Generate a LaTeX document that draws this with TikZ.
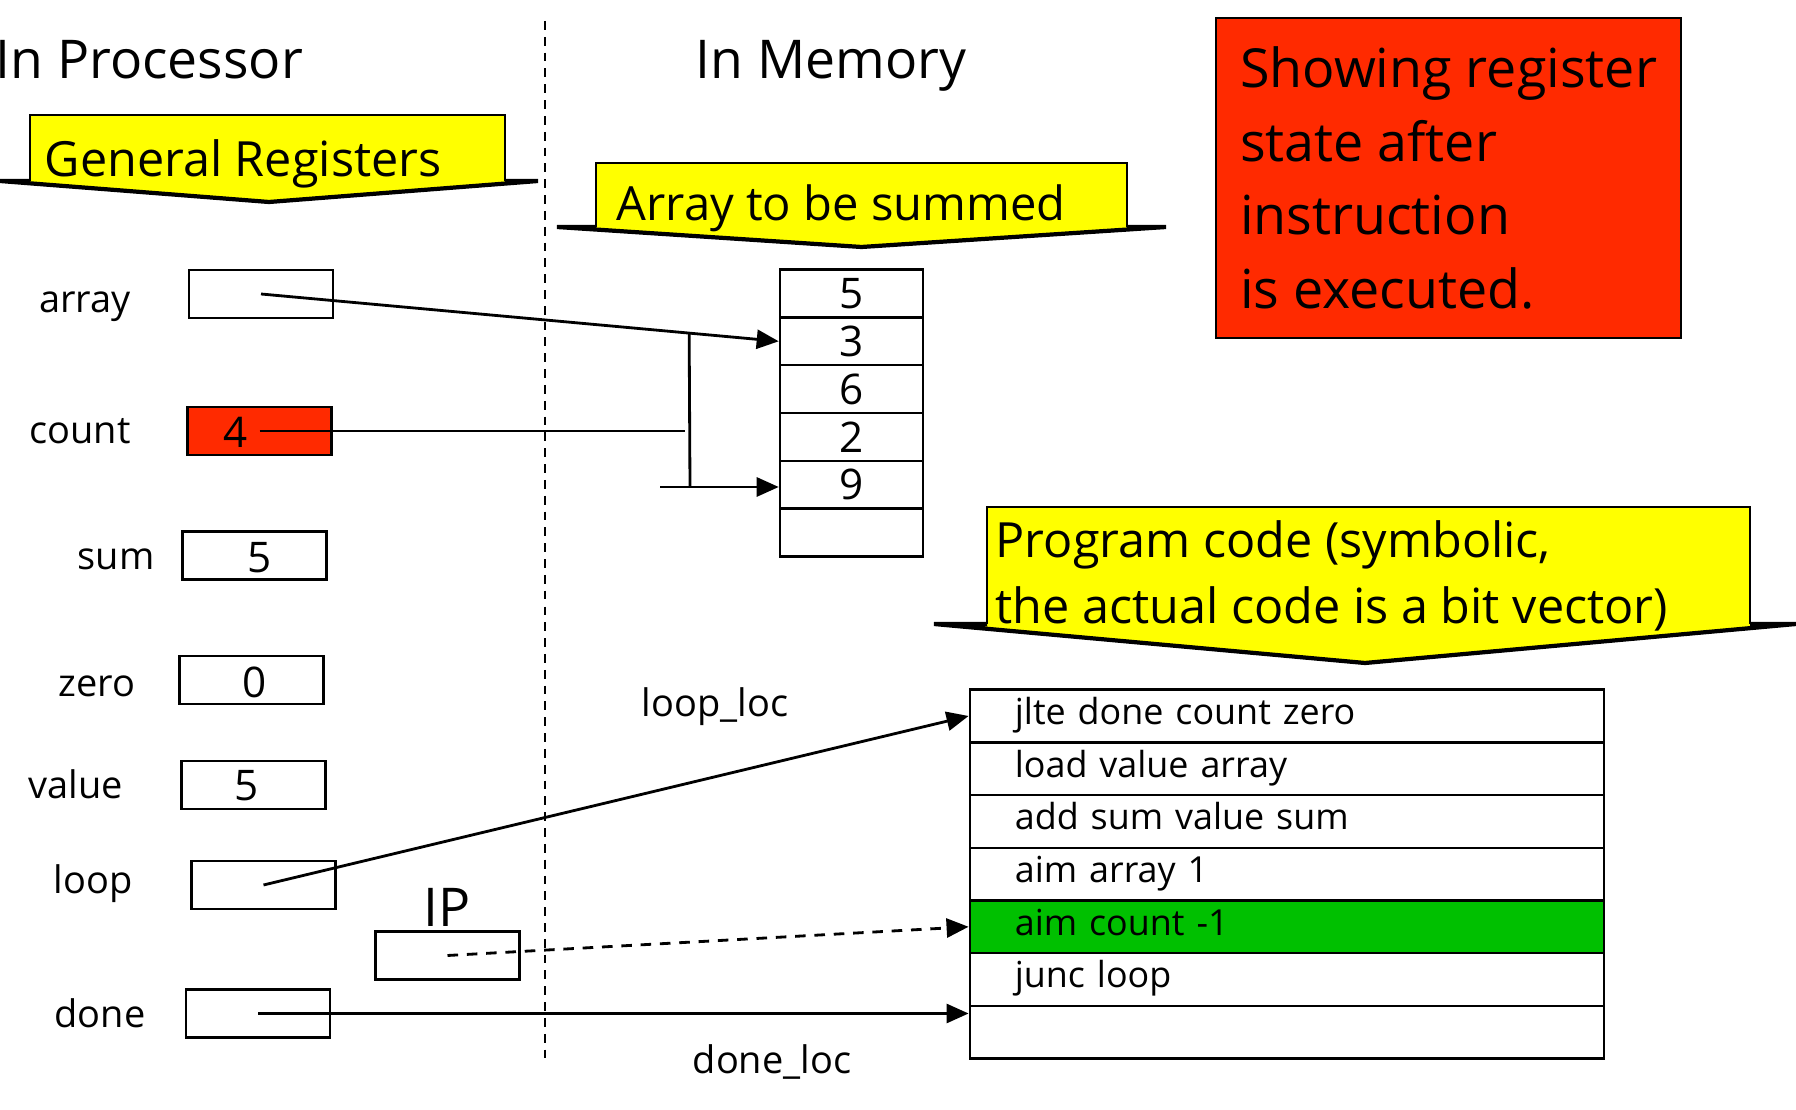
\documentclass[tikz,border=0pt]{standalone}
\usepackage{fontspec}
\setmainfont{Open Sans}
\usetikzlibrary{arrows.meta,calc}
\definecolor{calloutyellow}{RGB}{255,255,0}
\definecolor{statered}{RGB}{255,42,0}
\definecolor{ipgreen}{RGB}{0,192,0}
\def\arrowcallout(#1,#2,#3,#4)(#5,#6,#7){%
  \fill[calloutyellow] (#1,#3) -- (#2,#3) -- (#2,#4) -- (#6,#4) -- ({(#5+#6)/2},#7) -- (#5,#4) -- (#1,#4) -- cycle;
  \draw[line width=0.6pt] (#1,#4) -- (#1,#3) -- (#2,#3) -- (#2,#4);
  \draw[line width=1.2pt] (#1,#4) -- (#5,#4) -- ({(#5+#6)/2},#7) -- (#6,#4) -- (#2,#4);}
\tikzset{
  heading/.style={inner sep=0pt, font=\fontsize{15.2}{18}\selectfont},
  callouttext/.style={inner sep=0pt, align=left, font=\fontsize{13.8}{18.8}\selectfont},
  reglabel/.style={inner sep=0pt, font=\fontsize{10.8}{13}\selectfont},
  regbox/.style={draw, line width=0.7pt, minimum width=1.44cm, minimum height=0.48cm, inner sep=0pt},
  regval/.style={inner sep=0pt, font=\fontsize{12}{14}\selectfont},
  memcell/.style={draw, line width=0.7pt, minimum width=1.43cm, minimum height=0.478cm, inner sep=0pt, font=\fontsize{12}{14}\selectfont},
  codecell/.style={draw, line width=0.7pt, text width=5.44cm, inner xsep=0.45cm, inner ysep=0pt, minimum height=0.527cm, align=left, font=\fontsize{10.2}{12}\selectfont, execute at begin node=\strut},
  notebox/.style={draw, fill=statered, line width=0.7pt, minimum width=4.65cm, minimum height=3.2cm, align=left, font=\fontsize{15.3}{21}\selectfont},
  ptr/.style={line width=0.8pt, -{Triangle[length=2.2mm,width=1.9mm]}},
}

\begin{document}
\begin{tikzpicture}[x=0.01cm, y=-0.01cm]
	\useasboundingbox (0,0) rectangle (1796,1110);
	%%%%% HEADINGS %%%%%
	\node[heading, anchor=west] (proc) at (-5,60) {In Processor};
	\node[heading] (mem) at (831,66) {In Memory};
	\draw[line width=0.6pt, dash pattern=on 2.5pt off 2pt] (545,21) -- (545,1059);
	
	\node[notebox] (note) at (1448.5,178) {Showing register\\ state after\\ instruction\\ is executed.};
	
	%%%%% CALLOUTS %%%%%
	\arrowcallout(30,505,115,181)(0,538,202)
	\node[callouttext, anchor=west] (genreg) at (44,164) {General Registers};
	
	\arrowcallout(596,1127,163,227)(557,1166,247)
	\node[callouttext, anchor=west, font=\fontsize{13.4}{18}\selectfont] (arrsum) at (616,208) {Array to be summed};
	
	\arrowcallout(987,1750,507,624)(934,1796,663)
	\node[callouttext, anchor=west] (progcode) at (995,576) {Program code (symbolic,\\ the actual code is a bit vector)};
	
	%%%%% REGISTERS %%%%%
	\node[reglabel] (arraylbl) at (85,307) {array};
	\node[regbox] (array) at (261,294) {};
	
	\node[reglabel] (countlbl) at (80,431) {count};
	\node[regbox, fill=statered] (count) at (259.5,431) {};
	\node[regval] (countval) at (236,432) {4};
	
	\node[reglabel] (sumlbl) at (116,559) {sum};
	\node[regbox] (sum) at (254.5,555.5) {};
	\node[regval] (sumval) at (260,558) {5};
	
	\node[reglabel] (zerolbl) at (97,686) {zero};
	\node[regbox] (zero) at (251.5,680) {};
	\node[regval] (zeroval) at (255,682) {0};
	
	\node[reglabel] (valuelbl) at (76,784) {value};
	\node[regbox] (value) at (253.5,785) {};
	\node[regval] (valueval) at (247,786) {5};
	
	\node[reglabel] (looplbl) at (93,884) {loop};
	\node[regbox] (loop) at (263.5,885) {};
	
	\node[heading] (iplbl) at (447,907) {IP};
	\node[regbox] (ip) at (447.5,955.5) {};
	
	\node[reglabel] (donelbl) at (100,1013) {done};
	\node[regbox] (done) at (258,1013.5) {};
	
	%%%%% MEMORY %%%%%
	\foreach \v [count=\i] in {5,3,6,2,9,{}}
		\node[memcell] (m\i) at (851.5,{293.5+47.8*(\i-1)}) {\v};
	
	\foreach \t/\f [count=\i] in {jlte done count zero/white, load value array/white, add sum value sum/white, aim array 1/white, aim count -1/ipgreen, junc loop/white, {}/white}
		\node[codecell, fill=\f] (c\i) at (1287,{716+52.7*(\i-1)}) {\t};
	
	\node[reglabel] (looploc) at (715,707) {loop\_loc};
	\node[reglabel] (doneloc) at (772,1062) {done\_loc};
	
	%%%%% POINTERS %%%%%
	\draw[ptr] (array.center) -- (m2.west);
	\path (array.center) -- (m2.west) coordinate[pos=0.827] (brtop);
	\coordinate (brbot) at (690,487);
	\draw[line width=0.8pt] (brtop) -- (brbot);
	\coordinate (cntend) at (685,431);
	\draw[line width=0.8pt] (count.center) -- (cntend);
	\coordinate (idxstart) at (660,487);
	\draw[ptr] (idxstart) -- (idxstart -| m5.west);
	
	\draw[ptr] (loop.center) -- (c1.west);
	\draw[ptr, dash pattern=on 3pt off 2.5pt] (ip.center) -- (c5.west);
	\draw[ptr] (done.center) -- (done.center -| c7.west);
\end{tikzpicture}
\end{document}
